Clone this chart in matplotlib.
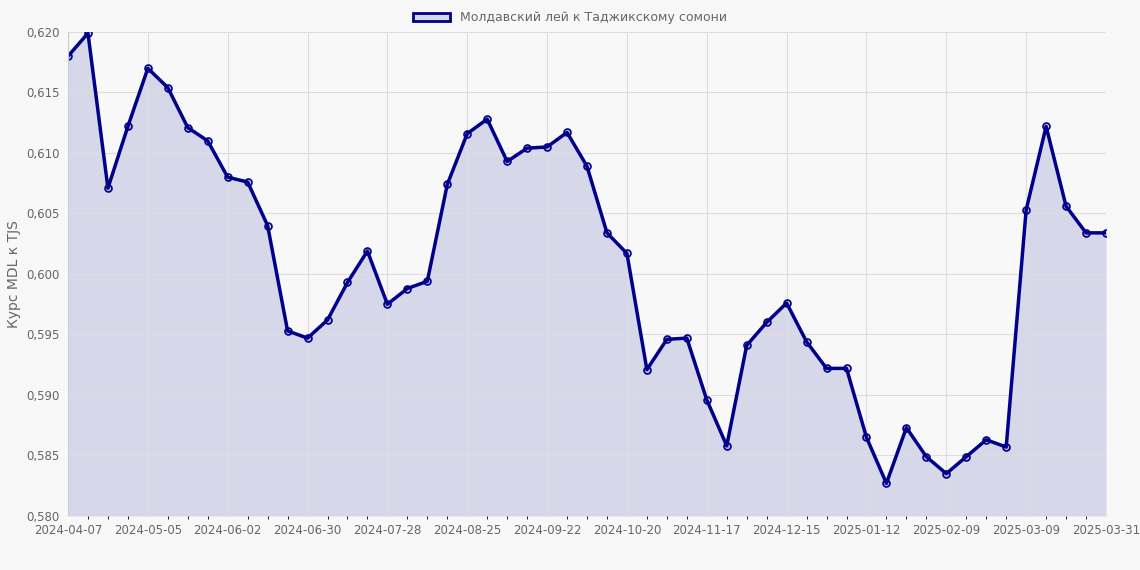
import datetime as dt

import numpy as np
import matplotlib

matplotlib.use("Agg")
import matplotlib.pyplot as plt
from matplotlib.patches import Patch
from matplotlib.ticker import FuncFormatter

start = dt.date(2024, 4, 7)
dates = [(start + dt.timedelta(weeks=i)).isoformat() for i in range(52)] + ["2025-03-31"]
values = [
    0.6180, 0.6199, 0.6071, 0.6122, 0.6170, 0.6154, 0.6121, 0.6110, 0.6080, 0.6076,
    0.6040, 0.5953, 0.5947, 0.5962, 0.5993, 0.6019, 0.5975, 0.5988, 0.5994, 0.6074,
    0.6116, 0.6128, 0.6093, 0.6104, 0.6105, 0.6117, 0.6089, 0.6034, 0.6017, 0.5921,
    0.5946, 0.5947, 0.5896, 0.5858, 0.5941, 0.5960, 0.5976, 0.5944, 0.5922, 0.5922,
    0.5865, 0.5827, 0.5873, 0.5849, 0.5835, 0.5849, 0.5863, 0.5857, 0.6053, 0.6122,
    0.6056, 0.6034, 0.6034,
]
series_label = "Молдавский лей к Таджикскому сомони"
y_label = "Курс MDL к TJS"

line_color = "#00008b"
fill_color = (0.0, 0.0, 0.55, 0.13)
bg = "#f8f8f8"

fig = plt.figure(figsize=(11.4, 5.7), dpi=100, facecolor=bg)
ax = fig.add_axes([68 / 1140, 1 - 516 / 570, (1106 - 68) / 1140, (516 - 32) / 570])
ax.set_facecolor(bg)

x = np.arange(len(values))
ax.fill_between(x, values, 0.58, color=fill_color, linewidth=0)
ax.plot(x, values, color=line_color, linewidth=2.5, marker="o", markersize=5,
        markerfacecolor=(0.0, 0.0, 0.55, 0.15), markeredgecolor=line_color, markeredgewidth=1.2)

ax.set_xlim(0, len(values) - 1)
ax.set_ylim(0.58, 0.62)
ax.set_yticks(np.arange(0.58, 0.6201, 0.005))
ax.yaxis.set_major_formatter(FuncFormatter(lambda v, p: f"{v:.3f}".replace(".", ",")))
ticks = list(range(0, 52, 4)) + [52]
ax.set_xticks(ticks, [dates[i] for i in ticks])
ax.set_xticks(range(len(values)), minor=True)
ax.grid(True, which="major", color="#dddddd", linewidth=0.8)
ax.tick_params(axis="both", labelsize=8.5, colors="#666666", length=0, pad=6)
for s in ax.spines.values():
    s.set_visible(False)
ax.axhline(0.58, color="#cccccc", linewidth=0.8)
ax.axvline(0, color="#cccccc", linewidth=0.8)
ax.set_ylabel(y_label, fontsize=10, color="#666666")

fig.legend(handles=[Patch(facecolor=(0.0, 0.0, 0.55, 0.13), edgecolor=line_color, linewidth=2)],
           labels=[series_label], loc="upper center", bbox_to_anchor=(0.5, 1.0),
           frameon=False, fontsize=9, labelcolor="#666666", handlelength=3)

fig.savefig("out.png", dpi=100, facecolor=bg)
